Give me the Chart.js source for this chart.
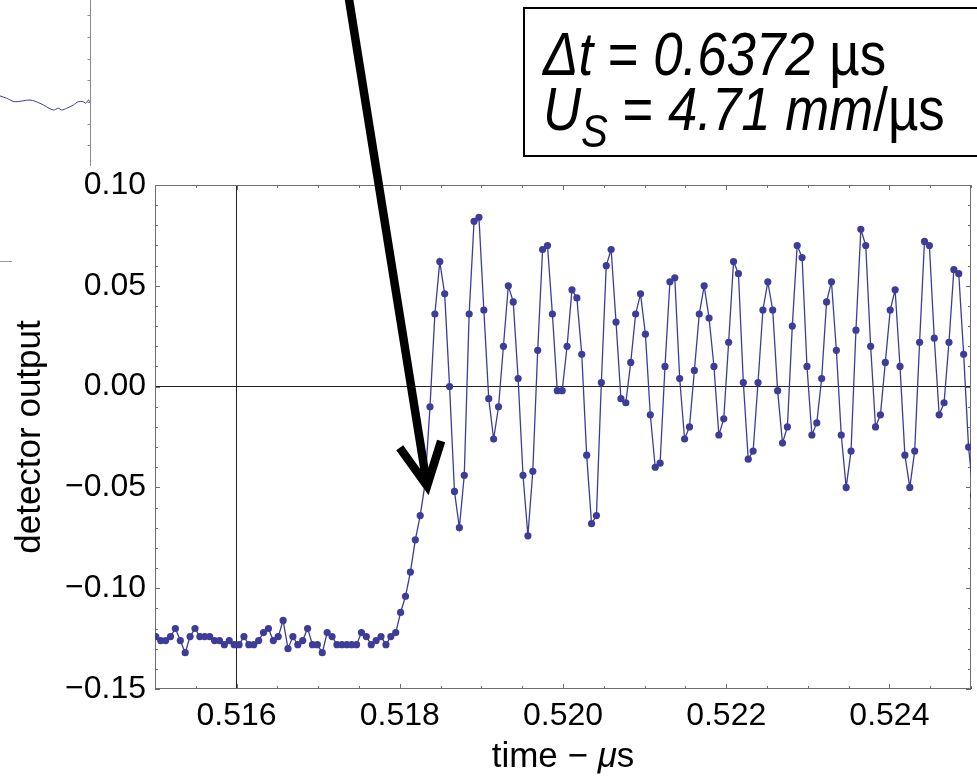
<!DOCTYPE html>
<html>
<head>
<meta charset="utf-8">
<title>Shock arrival at the detector</title>
<script src="https://cdn.jsdelivr.net/npm/chart.js@4.4.0/dist/chart.umd.min.js"></script>
<style>
  html, body { margin: 0; padding: 0; background: #fff; }
  #wrap { position: relative; width: 977px; height: 776px; overflow: hidden; background: #fff; }
  #main { position: absolute; left: 0; top: 0; }
  #inset { position: absolute; left: 0; top: 0; }
</style>
</head>
<body>
<div id="wrap">
  <canvas id="main" width="977" height="776"></canvas>
  <canvas id="inset" width="91" height="166"></canvas>
</div>
<script>
// ---- digitizer record (time base in µs) ----
const sampleStart = 0.51501;   // time of the first sample shown
const sampleStep  = 0.00006;   // sample interval

// detector output, one value per sample
const detectorOutput = [
  -0.124, -0.126, -0.126, -0.124, -0.120, -0.126, -0.132, -0.124, -0.120, -0.124,
  -0.124, -0.124, -0.126, -0.126, -0.128, -0.126, -0.128, -0.128, -0.124, -0.128,
  -0.128, -0.126, -0.122, -0.120, -0.126, -0.124, -0.116, -0.130, -0.124, -0.128,
  -0.126, -0.120, -0.128, -0.128, -0.132, -0.122, -0.124, -0.128, -0.128, -0.128,
  -0.128, -0.128, -0.122, -0.124, -0.128, -0.126, -0.124, -0.128, -0.124, -0.122,
  -0.112, -0.104, -0.092, -0.076, -0.064, -0.048, -0.010,  0.036,  0.062,  0.046,
   0.000, -0.052, -0.070, -0.044,  0.036,  0.082,  0.084,  0.038, -0.006, -0.026,
  -0.010,  0.020,  0.050,  0.042,  0.004, -0.044, -0.074, -0.042,  0.018,  0.068,
   0.070,  0.036, -0.002, -0.002,  0.020,  0.048,  0.044,  0.016, -0.034, -0.068,
  -0.064,  0.002,  0.060,  0.068,  0.032, -0.006, -0.008,  0.012,  0.036,  0.046,
   0.026, -0.014, -0.040, -0.038,  0.010,  0.052,  0.054,  0.004, -0.026, -0.020,
   0.008,  0.036,  0.050,  0.034,  0.010, -0.024, -0.016,  0.022,  0.062,  0.056,
   0.002, -0.036, -0.032,  0.002,  0.038,  0.052,  0.038, -0.002, -0.028, -0.020,
   0.030,  0.070,  0.064,  0.010, -0.024, -0.018,  0.004,  0.042,  0.052,  0.018,
  -0.024, -0.050, -0.032,  0.028,  0.078,  0.070,  0.020, -0.020, -0.014,  0.012,
   0.038,  0.048,  0.010, -0.034, -0.050, -0.032,  0.022,  0.072,  0.070,  0.024,
  -0.014, -0.008,  0.022,  0.058,  0.056,  0.016, -0.030, -0.054
];

// axes
const xRange = [0.515, 0.525];
const yRange = [-0.15, 0.10];
const xTickValues = [0.516, 0.518, 0.520, 0.522, 0.524];
const xTickLabels = ['0.516', '0.518', '0.520', '0.522', '0.524'];
const yTickValues = [-0.15, -0.10, -0.05, 0.00, 0.05, 0.10];
const yTickLabels = ['\u22120.15', '\u22120.10', '\u22120.05', '0.00', '0.05', '0.10'];
const xAxisOrigin = 0.516;
const yAxisOrigin = 0.00;

// sample where the shock front arrives (arrow target)
const arrivalSample = 55;

// annotation values
const transitTime = '0.6372';
const shockVelocity = '4.71';

// tail of the preceding trace (neighbouring panel, arbitrary units)
const prevTraceX = [0, 6.7, 15, 30, 40, 53.3, 58.3, 61.7, 66.7, 73.3, 78.3, 83.3, 86, 88.3, 90.7];
const prevTraceY = [2.28, 2.17, 2.01, 2.09, 1.94, 1.63, 1.71, 1.63, 1.71, 1.86, 2.01, 2.01, 1.94, 2.09, 1.97];
const prevTicks  = [0, 1, 2, 3, 4, 5, 6];

// ---- styling ----
const FONT = "'Liberation Sans', Arial, Helvetica, sans-serif";
const TRACE = '#3d3d99';
const FRAME = '#6e6e6e';

const tracePoints = detectorOutput.map((v, i) => ({ x: sampleStart + i * sampleStep, y: v }));

// frame with inward ticks, Mathematica style
const framePlugin = {
  id: 'frame',
  beforeDatasetsDraw(chart) {
    const { ctx, chartArea: a, scales: { x, y } } = chart;
    ctx.save();
    ctx.strokeStyle = FRAME;
    ctx.lineWidth = 1;
    ctx.strokeRect(Math.round(a.left) + 0.5, Math.round(a.top) + 0.5,
                   Math.round(a.right - a.left) - 1, Math.round(a.bottom - a.top) - 1);
    ctx.beginPath();
    // x ticks every 0.0005
    for (let k = 0; k <= 20; k++) {
      const v = xRange[0] + k * 0.0005;
      const px = Math.round(x.getPixelForValue(v)) + 0.5;
      const major = xTickValues.some(t => Math.abs(t - v) < 1e-9);
      const len = major ? 5 : 3;
      ctx.moveTo(px, a.bottom); ctx.lineTo(px, a.bottom - len);
      ctx.moveTo(px, a.top); ctx.lineTo(px, a.top + len);
    }
    // y ticks every 0.01
    for (let k = 0; k <= 25; k++) {
      const v = yRange[0] + k * 0.01;
      const py = Math.round(y.getPixelForValue(v)) + 0.5;
      const major = yTickValues.some(t => Math.abs(t - v) < 1e-9);
      const len = major ? 5 : 3;
      ctx.moveTo(a.left, py); ctx.lineTo(a.left + len, py);
      ctx.moveTo(a.right, py); ctx.lineTo(a.right - len, py);
    }
    ctx.stroke();
    ctx.restore();
  }
};

function runsWidth(ctx, runs, size) {
  let w = 0;
  for (const r of runs) {
    ctx.font = (r.italic ? 'italic ' : '') + size * (r.scale || 1) + 'px ' + FONT;
    w += ctx.measureText(r.text).width;
  }
  return w;
}

function drawRuns(ctx, x, y, runs, size) {
  for (const r of runs) {
    const s = size * (r.scale || 1);
    ctx.font = (r.italic ? 'italic ' : '') + s + 'px ' + FONT;
    ctx.fillText(r.text, x, y + (r.dy || 0));
    x += ctx.measureText(r.text).width;
  }
}

// arrow to the shock arrival, the result box and the time axis title
const notePlugin = {
  id: 'notes',
  afterDraw(chart) {
    const { ctx, chartArea: area, scales: { x, y } } = chart;
    ctx.save();

    // time axis title with italic mu
    const xTitle = [{ text: 'time \u2212 ' }, { text: '\u03bc', italic: true }, { text: 's' }];
    ctx.fillStyle = '#000';
    ctx.textBaseline = 'alphabetic';
    ctx.textAlign = 'left';
    const tw = runsWidth(ctx, xTitle, 35);
    drawRuns(ctx, (area.left + area.right) / 2 - tw / 2, 767, xTitle, 35);

    // arrow
    const tipX = x.getPixelForValue(sampleStart + arrivalSample * sampleStep) + 2;
    const tipY = y.getPixelForValue(detectorOutput[arrivalSample]) + 2.5;
    const ux0 = -0.1605, uy0 = -1;
    const n = Math.hypot(ux0, uy0);
    const ux = ux0 / n, uy = uy0 / n;
    const shaftLen = tipY / -uy + 20;
    ctx.strokeStyle = '#000';
    ctx.lineWidth = 8.5;
    ctx.lineCap = 'butt';
    ctx.lineJoin = 'miter';
    ctx.miterLimit = 10;
    ctx.beginPath();
    ctx.moveTo(tipX + ux * 4, tipY + uy * 4);
    ctx.lineTo(tipX + ux * shaftLen, tipY + uy * shaftLen);
    ctx.stroke();
    const headLen = 47, spread = 26.5 * Math.PI / 180;
    const rot = (a) => [ux * Math.cos(a) - uy * Math.sin(a), ux * Math.sin(a) + uy * Math.cos(a)];
    const [l1x, l1y] = rot(-spread), [l2x, l2y] = rot(spread);
    ctx.beginPath();
    ctx.moveTo(tipX + l1x * headLen, tipY + l1y * headLen);
    ctx.lineTo(tipX, tipY);
    ctx.lineTo(tipX + l2x * headLen, tipY + l2y * headLen);
    ctx.stroke();

    // result box
    ctx.lineWidth = 2;
    ctx.strokeRect(524, 8, 480, 148);
    ctx.save();
    ctx.translate(543, 0);
    ctx.scale(0.865, 1);
    const size = 61;
    drawRuns(ctx, 0, 75, [
      { text: '\u0394t', italic: true },
      { text: ' = ' },
      { text: transitTime, italic: true },
      { text: ' \u00b5s' }
    ], size);
    drawRuns(ctx, 0, 130, [
      { text: 'U', italic: true },
      { text: 'S', italic: true, scale: 0.76, dy: 17 },
      { text: ' = ' },
      { text: shockVelocity + ' mm', italic: true },
      { text: '/\u00b5s' }
    ], size);
    ctx.restore();

    // stray tick of the neighbouring panel
    ctx.strokeStyle = '#999';
    ctx.lineWidth = 1;
    ctx.beginPath();
    ctx.moveTo(0, 261.5); ctx.lineTo(12, 261.5);
    ctx.stroke();

    ctx.restore();
  }
};

new Chart(document.getElementById('main'), {
  type: 'line',
  data: {
    datasets: [{
      data: tracePoints,
      borderColor: TRACE,
      backgroundColor: TRACE,
      borderWidth: 1.3,
      pointRadius: 3.6,
      pointBorderWidth: 0,
      pointBackgroundColor: TRACE,
      tension: 0
    }]
  },
  options: {
    responsive: false,
    animation: false,
    events: [],
    layout: { padding: { top: 185, right: 6, bottom: 0, left: 0 } },
    plugins: { legend: { display: false }, tooltip: { enabled: false } },
    scales: {
      x: {
        type: 'linear',
        min: xRange[0], max: xRange[1],
        afterBuildTicks: s => { s.ticks = xTickValues.map(v => ({ value: v })); },
        afterFit: s => { s.height = 87; },
        ticks: {
          callback: (v, i) => xTickLabels[i],
          font: { family: FONT, size: 32 },
          color: '#000',
          padding: 8,
          maxRotation: 0, minRotation: 0,
          autoSkip: false
        },
        grid: {
          drawTicks: false,
          lineWidth: 1,
          color: c => (c.tick && Math.abs(c.tick.value - xAxisOrigin) < 1e-9) ? '#222' : 'rgba(0,0,0,0)'
        },
        border: { display: false }
      },
      y: {
        type: 'linear',
        min: yRange[0], max: yRange[1],
        afterBuildTicks: s => { s.ticks = yTickValues.map(v => ({ value: v })); },
        afterFit: s => { s.width = 155; },
        ticks: {
          callback: (v, i) => yTickLabels[i],
          font: { family: FONT, size: 32 },
          color: '#000',
          padding: 9
        },
        grid: {
          drawTicks: false,
          lineWidth: 1,
          color: c => (c.tick && Math.abs(c.tick.value - yAxisOrigin) < 1e-9) ? '#222' : 'rgba(0,0,0,0)'
        },
        border: { display: false },
        title: {
          display: true,
          text: 'detector output',
          font: { family: FONT, size: 35 },
          color: '#000',
          padding: 9
        }
      }
    }
  },
  plugins: [framePlugin, notePlugin]
});

// neighbouring panel: right frame edge with inward ticks and the end of its trace
const insetFrame = {
  id: 'insetFrame',
  afterDraw(chart) {
    const { ctx, chartArea: a, scales: { y } } = chart;
    ctx.save();
    ctx.strokeStyle = '#8a8a8a';
    ctx.lineWidth = 1;
    ctx.beginPath();
    const ex = Math.round(a.right) - 0.5;
    ctx.moveTo(ex, 0); ctx.lineTo(ex, a.bottom);
    for (const t of prevTicks) {
      const py = Math.round(y.getPixelForValue(t)) + 0.5;
      ctx.moveTo(ex, py); ctx.lineTo(ex - 3, py);
    }
    ctx.stroke();
    ctx.restore();
  }
};

new Chart(document.getElementById('inset'), {
  type: 'line',
  data: {
    datasets: [{
      data: prevTraceX.map((x, i) => ({ x, y: prevTraceY[i] })),
      borderColor: TRACE,
      borderWidth: 1,
      pointRadius: 0,
      tension: 0.3
    }]
  },
  options: {
    responsive: false,
    animation: false,
    events: [],
    layout: { padding: 0 },
    plugins: { legend: { display: false }, tooltip: { enabled: false } },
    scales: {
      x: { type: 'linear', display: false, min: 0, max: 91 },
      y: { type: 'linear', display: false, min: -0.95, max: 6.7 }
    }
  },
  plugins: [insetFrame]
});
</script>
</body>
</html>
